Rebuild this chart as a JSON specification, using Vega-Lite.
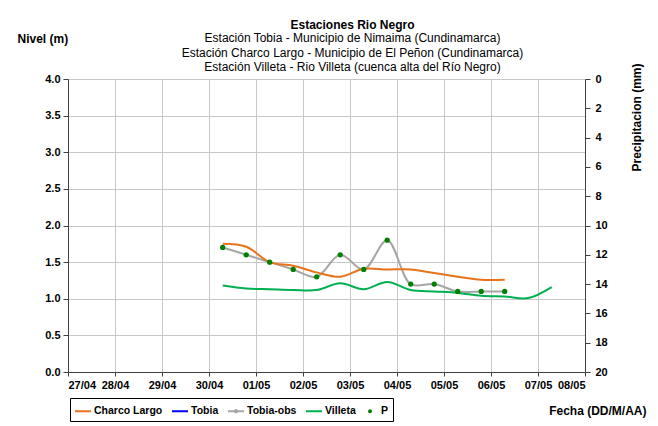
{
  "$schema": "https://vega.github.io/schema/vega-lite/v6.json",
  "width": 517,
  "height": 293,
  "autosize": "none",
  "padding": {"left": 68, "top": 79, "right": 73, "bottom": 54},
  "background": "white",
  "config": {
    "font": "Liberation Sans",
    "view": {"stroke": null},
    "axis": {
      "labelFont": "Liberation Sans",
      "labelFontWeight": "bold",
      "labelFontSize": 11,
      "labelColor": "black",
      "titleFont": "Liberation Sans",
      "titleFontWeight": "bold",
      "titleFontSize": 12,
      "titleColor": "black",
      "domainColor": "#404040",
      "tickColor": "#404040",
      "gridColor": "#c8c8c8",
      "gridWidth": 1
    }
  },
  "title": {
    "text": "Estaciones Rio Negro",
    "subtitle": [
      "Estación Tobia - Municipio de Nimaima (Cundinamarca)",
      "Estación Charco Largo - Municipio de El Peñon (Cundinamarca)",
      "Estación Villeta -  Rio Villeta (cuenca alta del Río Negro)"
    ],
    "font": "Liberation Sans",
    "subtitleFont": "Liberation Sans",
    "fontSize": 12,
    "fontWeight": "bold",
    "subtitleFontSize": 12,
    "subtitleColor": "black",
    "color": "black",
    "anchor": "middle",
    "dx": 26,
    "offset": -42,
    "subtitlePadding": 1,
    "subtitleLineHeight": 14.5
  },
  "datasets": {
    "niveles": [
      {"serie": "Tobia-obs", "fecha": "2024-04-30T07:00:00Z", "nivel": 1.70},
      {"serie": "Tobia-obs", "fecha": "2024-04-30T19:00:00Z", "nivel": 1.60},
      {"serie": "Tobia-obs", "fecha": "2024-05-01T07:00:00Z", "nivel": 1.50},
      {"serie": "Tobia-obs", "fecha": "2024-05-01T19:00:00Z", "nivel": 1.40},
      {"serie": "Tobia-obs", "fecha": "2024-05-02T07:00:00Z", "nivel": 1.30},
      {"serie": "Tobia-obs", "fecha": "2024-05-02T19:00:00Z", "nivel": 1.60},
      {"serie": "Tobia-obs", "fecha": "2024-05-03T07:00:00Z", "nivel": 1.40},
      {"serie": "Tobia-obs", "fecha": "2024-05-03T19:00:00Z", "nivel": 1.80},
      {"serie": "Tobia-obs", "fecha": "2024-05-04T07:00:00Z", "nivel": 1.20},
      {"serie": "Tobia-obs", "fecha": "2024-05-04T19:00:00Z", "nivel": 1.20},
      {"serie": "Tobia-obs", "fecha": "2024-05-05T07:00:00Z", "nivel": 1.10},
      {"serie": "Tobia-obs", "fecha": "2024-05-05T19:00:00Z", "nivel": 1.10},
      {"serie": "Tobia-obs", "fecha": "2024-05-06T07:00:00Z", "nivel": 1.10},
      {"serie": "Charco Largo", "fecha": "2024-04-30T07:00:00Z", "nivel": 1.75},
      {"serie": "Charco Largo", "fecha": "2024-04-30T19:00:00Z", "nivel": 1.71},
      {"serie": "Charco Largo", "fecha": "2024-05-01T07:00:00Z", "nivel": 1.50},
      {"serie": "Charco Largo", "fecha": "2024-05-01T19:00:00Z", "nivel": 1.45},
      {"serie": "Charco Largo", "fecha": "2024-05-02T07:00:00Z", "nivel": 1.36},
      {"serie": "Charco Largo", "fecha": "2024-05-02T19:00:00Z", "nivel": 1.30},
      {"serie": "Charco Largo", "fecha": "2024-05-03T07:00:00Z", "nivel": 1.41},
      {"serie": "Charco Largo", "fecha": "2024-05-03T19:00:00Z", "nivel": 1.40},
      {"serie": "Charco Largo", "fecha": "2024-05-04T07:00:00Z", "nivel": 1.40},
      {"serie": "Charco Largo", "fecha": "2024-05-04T19:00:00Z", "nivel": 1.35},
      {"serie": "Charco Largo", "fecha": "2024-05-05T07:00:00Z", "nivel": 1.30},
      {"serie": "Charco Largo", "fecha": "2024-05-05T19:00:00Z", "nivel": 1.26},
      {"serie": "Charco Largo", "fecha": "2024-05-06T07:00:00Z", "nivel": 1.26},
      {"serie": "Villeta", "fecha": "2024-04-30T07:00:00Z", "nivel": 1.18},
      {"serie": "Villeta", "fecha": "2024-04-30T19:00:00Z", "nivel": 1.14},
      {"serie": "Villeta", "fecha": "2024-05-01T07:00:00Z", "nivel": 1.13},
      {"serie": "Villeta", "fecha": "2024-05-01T19:00:00Z", "nivel": 1.12},
      {"serie": "Villeta", "fecha": "2024-05-02T07:00:00Z", "nivel": 1.12},
      {"serie": "Villeta", "fecha": "2024-05-02T19:00:00Z", "nivel": 1.21},
      {"serie": "Villeta", "fecha": "2024-05-03T07:00:00Z", "nivel": 1.13},
      {"serie": "Villeta", "fecha": "2024-05-03T19:00:00Z", "nivel": 1.23},
      {"serie": "Villeta", "fecha": "2024-05-04T07:00:00Z", "nivel": 1.12},
      {"serie": "Villeta", "fecha": "2024-05-04T19:00:00Z", "nivel": 1.10},
      {"serie": "Villeta", "fecha": "2024-05-05T07:00:00Z", "nivel": 1.08},
      {"serie": "Villeta", "fecha": "2024-05-05T19:00:00Z", "nivel": 1.04},
      {"serie": "Villeta", "fecha": "2024-05-06T07:00:00Z", "nivel": 1.03},
      {"serie": "Villeta", "fecha": "2024-05-06T19:00:00Z", "nivel": 1.01},
      {"serie": "Villeta", "fecha": "2024-05-07T07:00:00Z", "nivel": 1.16}
    ],
    "precip": []
  },
  "layer": [
    {
      "data": {"name": "niveles"},
      "encoding": {
        "x": {
          "field": "fecha",
          "type": "temporal",
          "scale": {"type": "utc", "domain": ["2024-04-27T00:00:00Z", "2024-05-08T00:00:00Z"]},
          "axis": {
            "format": "%d/%m",
            "tickCount": {"interval": "day", "step": 1},
            "grid": true,
            "tickSize": 4,
            "labelPadding": 3,
            "title": "Fecha (DD/M/AA)",
            "titleX": 578,
            "titleY": 38,
            "titleAlign": "right",
            "titleBaseline": "middle"
          }
        },
        "y": {
          "field": "nivel",
          "type": "quantitative",
          "scale": {"domain": [0, 4]},
          "axis": {
            "values": [0, 0.5, 1, 1.5, 2, 2.5, 3, 3.5, 4],
            "format": ".1f",
            "grid": true,
            "tickSize": 5,
            "labelPadding": 3,
            "title": "Nivel (m)",
            "titleAngle": 0,
            "titleX": -51,
            "titleY": -41,
            "titleAlign": "left",
            "titleBaseline": "middle"
          }
        }
      },
      "layer": [
        {
          "mark": {"type": "line", "interpolate": "catmull-rom"},
          "encoding": {
            "color": {
              "field": "serie",
              "type": "nominal",
              "scale": {
                "domain": ["Charco Largo", "Tobia", "Tobia-obs", "Villeta", "P"],
                "range": ["#E8731A", "#0000FF", "#A6A6A6", "#00B050", "#008000"]
              },
              "legend": {
                "orient": "none",
                "legendX": 2,
                "legendY": 319,
                "direction": "horizontal",
                "title": null,
                "strokeColor": "black",
                "padding": 4,
                "labelFont": "Liberation Sans",
                "labelFontWeight": "bold",
                "labelFontSize": 10.5,
                "labelColor": "black",
                "labelOffset": 2,
                "columnPadding": 5,
                "symbolType": "stroke",
                "symbolSize": 256,
                "symbolStrokeWidth": 2,
                "encode": {
                  "symbols": {
                    "update": {
                      "shape": {"signal": "datum.value === 'P' ? 'circle' : datum.value === 'Tobia-obs' ? 'M-1,0H1M-0.15,0A0.15,0.15,0,1,1,0.15,0A0.15,0.15,0,1,1,-0.15,0' : 'stroke'"},
                      "fill": {"signal": "datum.value === 'P' || datum.value === 'Tobia-obs' ? '#008000' : 'transparent'"},
                      "size": {"signal": "datum.value === 'P' ? 4 : 256"}
                    }
                  }
                }
              }
            },
            "strokeWidth": {
              "field": "serie",
              "type": "nominal",
              "scale": {
                "domain": ["Charco Largo", "Tobia", "Tobia-obs", "Villeta", "P"],
                "range": [2, 2, 3, 3, 1]
              },
              "legend": null
            }
          }
        },
        {
          "transform": [{"filter": "datum.serie === 'Tobia-obs'"}],
          "mark": {"type": "point", "filled": true, "color": "#008000", "size": 28, "opacity": 1}
        }
      ]
    },
    {
      "data": {"name": "precip"},
      "mark": {"type": "point", "filled": true, "color": "#008000", "size": 6},
      "encoding": {
        "x": {"field": "fecha", "type": "temporal"},
        "y": {
          "field": "p",
          "type": "quantitative",
          "scale": {"domain": [0, 20], "reverse": true},
          "axis": {
            "orient": "right",
            "values": [0, 2, 4, 6, 8, 10, 12, 14, 16, 18, 20],
            "grid": false,
            "tickSize": 5,
            "labelPadding": 5,
            "title": "Precipitacion (mm)",
            "titleAngle": 270,
            "titleX": 51,
            "titleY": 38,
            "titleAlign": "center",
            "titleBaseline": "middle"
          }
        }
      }
    }
  ],
  "resolve": {"scale": {"y": "independent"}}
}
